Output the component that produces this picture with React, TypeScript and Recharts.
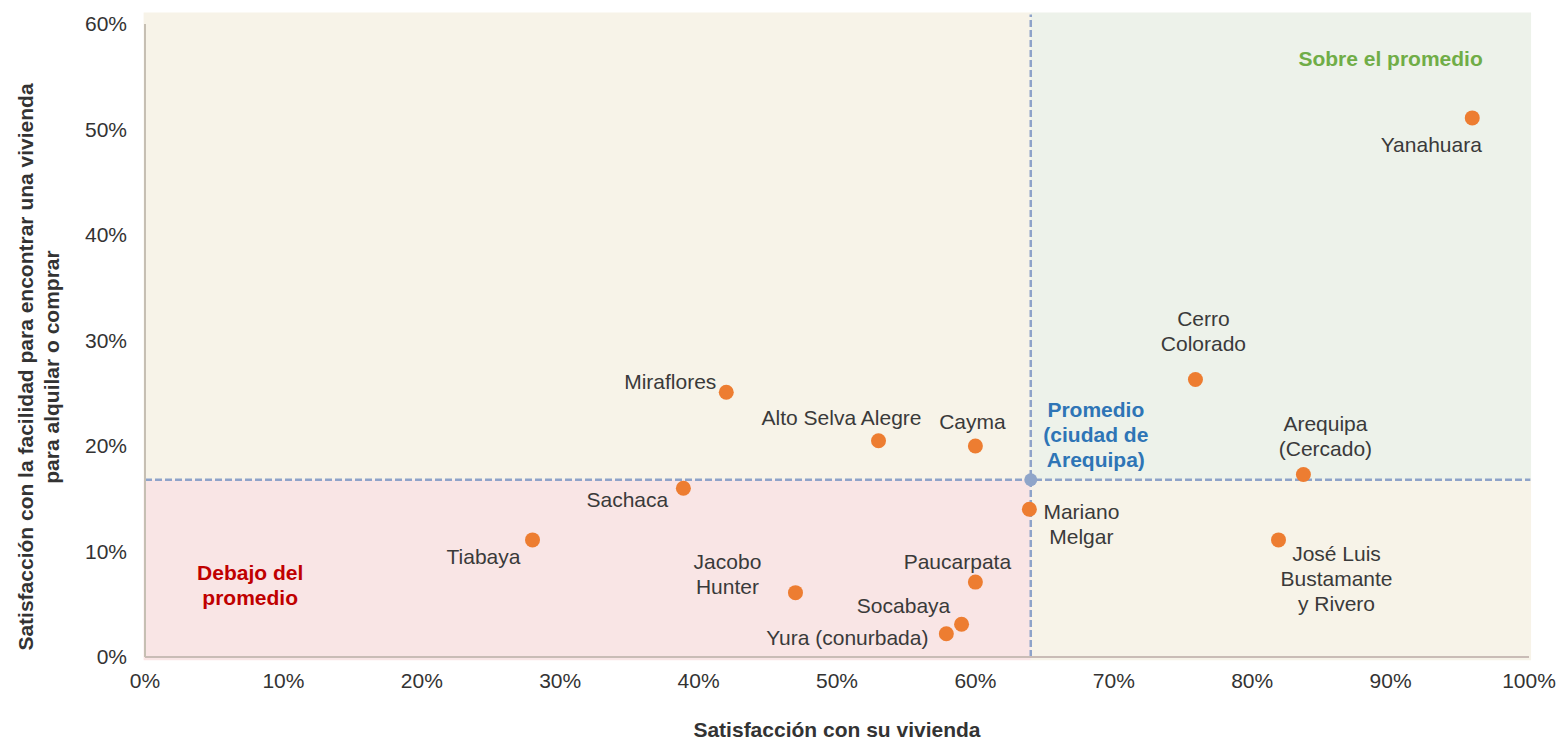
import { ScatterChart, Scatter, XAxis, YAxis, ReferenceArea, ReferenceLine, Label } from 'recharts';

const districts = [
  'Yanahuara',
  'Cerro\nColorado',
  'Arequipa\n(Cercado)',
  'José Luis\nBustamante\ny Rivero',
  'Mariano\nMelgar',
  'Miraflores',
  'Alto Selva Alegre',
  'Cayma',
  'Sachaca',
  'Tiabaya',
  'Jacobo\nHunter',
  'Paucarpata',
  'Socabaya',
  'Yura (conurbada)',
];
const viviendaSat = [95.9, 75.9, 83.7, 81.9, 63.9, 42.0, 53.0, 60.0, 38.9, 28.0, 47.0, 60.0, 59.0, 57.9];
const facilidadSat = [51.1, 26.3, 17.3, 11.1, 14.0, 25.1, 20.5, 20.0, 16.0, 11.1, 6.1, 7.1, 3.1, 2.2];

const promedioX = 64;
const promedioY = 16.8;

const quadrantTexts = ['Sobre el promedio', 'Promedio\n(ciudad de\nArequipa)', 'Debajo del\npromedio'];
const quadrantX = [90.0, 68.7, 7.6];
const quadrantY = [56.7, 21.0, 6.8];
const quadrantColors = ['#70ad47', '#2e75b6', '#c00000'];

const xTicks = [0, 10, 20, 30, 40, 50, 60, 70, 80, 90, 100];
const yTicks = [0, 10, 20, 30, 40, 50, 60];

// label offsets from each dot (first line centre), pixels
const labelOffset: Record<string, [number, number]> = {
  'Yanahuara': [-41, 27],
  'Cerro\nColorado': [8, -61],
  'Arequipa\n(Cercado)': [22, -50],
  'José Luis\nBustamante\ny Rivero': [58, 14],
  'Mariano\nMelgar': [52, 3],
  'Miraflores': [-56, -10],
  'Alto Selva Alegre': [-37, -23],
  'Cayma': [-3, -24],
  'Sachaca': [-56, 12],
  'Tiabaya': [-49, 17],
  'Jacobo\nHunter': [-68, -31],
  'Paucarpata': [-18, -20],
  'Socabaya': [-58, -18],
  'Yura (conurbada)': [-99, 4],
};

const points = districts.map((name, i) => ({ name, x: viviendaSat[i], y: facilidadSat[i] }));
const avgPoint = [{ x: promedioX, y: promedioY }];
const notes = quadrantTexts.map((text, i) => ({ text, x: quadrantX[i], y: quadrantY[i], color: quadrantColors[i] }));

const FONT = 21;
const LINE = 25;

function DistrictDot(props: any) {
  const { cx, cy, payload } = props;
  const [dx, dy] = labelOffset[payload.name] || [0, -20];
  const lines = payload.name.split('\n');
  return (
    <g>
      <circle cx={cx} cy={cy} r={7.5} fill="#ed7d31" />
      <text x={cx + dx} y={cy + dy + 7} textAnchor="middle" fontSize={FONT} fill="#3a3a3a">
        {lines.map((l: string, k: number) => (
          <tspan key={k} x={cx + dx} dy={k === 0 ? 0 : LINE}>{l}</tspan>
        ))}
      </text>
    </g>
  );
}

function NoteText(props: any) {
  const { cx, cy, payload } = props;
  const lines = payload.text.split('\n');
  const top = cy - ((lines.length - 1) * LINE) / 2 + 7;
  return (
    <text x={cx} y={top} textAnchor="middle" fontSize={FONT} fontWeight="bold" fill={payload.color}>
      {lines.map((l: string, k: number) => (
        <tspan key={k} x={cx} dy={k === 0 ? 0 : LINE}>{l}</tspan>
      ))}
    </text>
  );
}

export default function App() {
  return (
    <div style={{ position: 'absolute', left: 0, top: 0, fontFamily: '"Liberation Sans", Arial, sans-serif' }}>
      <ScatterChart width={1559} height={742} margin={{ top: 24, right: 30, bottom: 0, left: 0 }}>
        <ReferenceArea x1={-0.1} x2={promedioX} y1={promedioY} y2={61.1} fill="#f7f3e8" fillOpacity={1} ifOverflow="visible" />
        <ReferenceArea x1={promedioX} x2={100.15} y1={promedioY} y2={61.1} fill="#edf2ea" fillOpacity={1} ifOverflow="visible" />
        <ReferenceArea x1={-0.1} x2={promedioX} y1={-0.3} y2={promedioY} fill="#f9e5e5" fillOpacity={1} ifOverflow="visible" />
        <ReferenceArea x1={promedioX} x2={100.15} y1={-0.3} y2={promedioY} fill="#f7f3e8" fillOpacity={1} ifOverflow="visible" />
        <XAxis
          type="number"
          dataKey="x"
          domain={[0, 100]}
          ticks={xTicks}
          tickFormatter={(v) => `${v}%`}
          tickLine={false}
          tickMargin={10}
          axisLine={{ stroke: '#c9bcb6', strokeWidth: 2 }}
          tick={{ fill: '#333333', fontSize: FONT }}
          height={85}
        >
          <Label
            content={() => (
              <text x={837} y={737} textAnchor="middle" fontSize={FONT} fontWeight="bold" fill="#333333">
                Satisfacción con su vivienda
              </text>
            )}
          />
        </XAxis>
        <YAxis
          type="number"
          dataKey="y"
          domain={[0, 60]}
          ticks={yTicks}
          tickFormatter={(v) => `${v}%`}
          tickLine={false}
          tickMargin={12}
          axisLine={{ stroke: '#c6bfb3', strokeWidth: 2 }}
          tick={{ fill: '#333333', fontSize: FONT }}
          width={145}
        >
          <Label
            content={() => (
              <g>
                <text x={33} y={367} transform="rotate(-90, 33, 367)" textAnchor="middle" fontSize={FONT} fontWeight="bold" fill="#333333">
                  Satisfacción con la facilidad para encontrar una vivienda
                </text>
                <text x={59} y={367} transform="rotate(-90, 59, 367)" textAnchor="middle" fontSize={FONT} fontWeight="bold" fill="#333333">
                  para alquilar o comprar
                </text>
              </g>
            )}
          />
        </YAxis>
        <ReferenceLine
          segment={[{ x: promedioX, y: 0 }, { x: promedioX, y: 60.9 }]}
          stroke="#8ea3c9"
          strokeWidth={2.5}
          strokeDasharray="7 3"
          ifOverflow="visible"
        />
        <ReferenceLine
          segment={[{ x: 0, y: promedioY }, { x: 100.1, y: promedioY }]}
          stroke="#8ea3c9"
          strokeWidth={2.5}
          strokeDasharray="7 3"
          ifOverflow="visible"
        />
        <Scatter data={notes} shape={NoteText} isAnimationActive={false} />
        <Scatter data={avgPoint} fill="#8fa5c9" shape={(p: any) => <circle cx={p.cx} cy={p.cy} r={6.5} fill="#8fa5c9" />} isAnimationActive={false} />
        <Scatter data={points} shape={DistrictDot} isAnimationActive={false} />
      </ScatterChart>
    </div>
  );
}
